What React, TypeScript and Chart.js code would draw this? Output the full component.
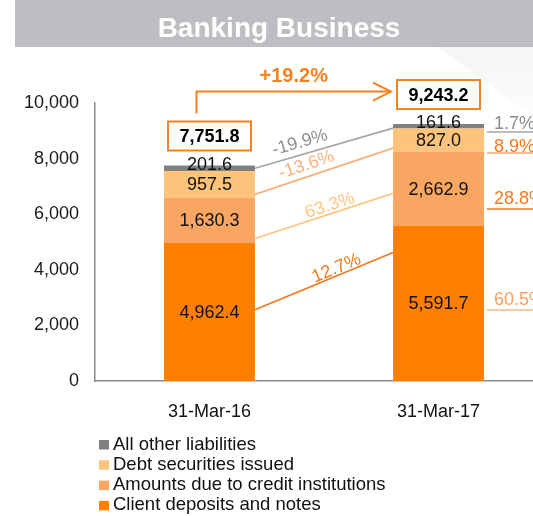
import { useEffect, useRef } from 'react';
import { Chart, registerables } from 'chart.js';

Chart.register(...registerables);

// ---------- data ----------
const titleText = 'Banking Business';
const categories = ['31-Mar-16', '31-Mar-17'];
const seriesNames = [
  'Client deposits and notes',
  'Amounts due to credit institutions',
  'Debt securities issued',
  'All other liabilities',
];
const clientDeposits = [4962.4, 5591.7];
const amountsDue = [1630.3, 2662.9];
const debtSecurities = [957.5, 827.0];
const otherLiabilities = [201.6, 161.6];
const totals = [7751.8, 9243.2];
const yTicks = [0, 2000, 4000, 6000, 8000, 10000];
const totalGrowth = '+19.2%';
// order: client, amounts, debt, other
const changeLabels = ['12.7%', '63.3%', '-13.6%', '-19.9%'];
const connectorFrom = [2563, 5126, 6715, 7653];
const connectorTo = [4621, 6751, 8375, 9097];
const shareLabels = ['60.5%', '28.8%', '8.9%', '1.7%'];
const shareAnchors = [2553, 6185, 8199, 8954];

// ---------- styles ----------
const FONT = '"Liberation Sans", Arial, Helvetica, sans-serif';
const seriesColors = ['#FF8000', '#F9A662', '#FFC47C', '#808080'];
const connectorLineColors = ['#F07A1E', '#FFC57F', '#F9B07E', '#A6A6A6'];
const connectorTextColors = ['#F07A1E', '#FFC57F', '#F9B07E', '#8E8E8E'];
const connectorT = [0.61, 0.56, 0.4, 0.35];
const connectorLift = [2, 3, 6.5, 7];
const shareLineColors = ['#FBB880', '#F47B20', '#F9A870', '#A6A6A6'];
const shareTextColors = ['#F8A060', '#F47B20', '#F47B20', '#8C8C8C'];
const shareLift = [5, 5, 1, 3];
const ORANGE = '#F58220';

const fmt1 = (v: number) =>
  v.toLocaleString('en-US', { minimumFractionDigits: 1, maximumFractionDigits: 1 });

const decorPlugin = {
  id: 'decor',
  beforeDraw(chart: any) {
    const ctx = chart.ctx as CanvasRenderingContext2D;
    ctx.save();
    ctx.fillStyle = '#ffffff';
    ctx.fillRect(0, 0, chart.width, chart.height);
    // faint decorative wedge top-right
    const g = ctx.createLinearGradient(0, 47, 0, 140);
    g.addColorStop(0, '#F5F5F6');
    g.addColorStop(1, '#FFFFFF');
    ctx.fillStyle = g;
    ctx.beginPath();
    ctx.moveTo(437, 47);
    ctx.lineTo(chart.width, 47);
    ctx.lineTo(chart.width, 135);
    ctx.closePath();
    ctx.fill();
    ctx.fillStyle = '#BDBEC1';
    ctx.fillRect(15, 0, chart.width - 15, 47);
    ctx.fillStyle = '#ffffff';
    ctx.font = `bold 28px ${FONT}`;
    ctx.textAlign = 'center';
    ctx.textBaseline = 'alphabetic';
    ctx.fillText(titleText, 279, 37);
    ctx.restore();
  },
  afterDatasetsDraw(chart: any) {
    const ctx = chart.ctx as CanvasRenderingContext2D;
    const y = chart.scales.y;
    const metas = [0, 1, 2, 3].map((i) => chart.getDatasetMeta(i));
    const b0 = metas[0].data[0];
    const b1 = metas[0].data[1];
    const x1 = b0.x + b0.width / 2;
    const x2 = b1.x - b1.width / 2;
    ctx.save();

    // connector lines with change labels
    for (let i = 0; i < 4; i++) {
      const ya = y.getPixelForValue(connectorFrom[i]);
      const yb = y.getPixelForValue(connectorTo[i]);
      ctx.strokeStyle = connectorLineColors[i];
      ctx.lineWidth = 1.8;
      ctx.beginPath();
      ctx.moveTo(x1, ya);
      ctx.lineTo(x2, yb);
      ctx.stroke();
      const ang = Math.atan2(yb - ya, x2 - x1);
      const t = connectorT[i];
      const cx = x1 + (x2 - x1) * t;
      const cy = ya + (yb - ya) * t;
      ctx.save();
      ctx.translate(cx, cy);
      ctx.rotate(ang);
      ctx.fillStyle = connectorTextColors[i];
      ctx.font = `18px ${FONT}`;
      ctx.textAlign = 'center';
      ctx.textBaseline = 'alphabetic';
      ctx.fillText(changeLabels[i], 0, -connectorLift[i]);
      ctx.restore();
    }

    // share lines right of bar 2
    const sx = b1.x + b1.width / 2;
    for (let i = 0; i < 4; i++) {
      const ly = y.getPixelForValue(shareAnchors[i]);
      ctx.strokeStyle = shareLineColors[i];
      ctx.lineWidth = 1.5;
      ctx.beginPath();
      ctx.moveTo(sx + 3, ly);
      ctx.lineTo(chart.width, ly);
      ctx.stroke();
      ctx.fillStyle = shareTextColors[i];
      ctx.font = `18px ${FONT}`;
      ctx.textAlign = 'left';
      ctx.textBaseline = 'alphabetic';
      ctx.fillText(shareLabels[i], sx + 10, ly - shareLift[i]);
    }

    // segment value labels
    ctx.fillStyle = '#111111';
    ctx.font = `18px ${FONT}`;
    ctx.textAlign = 'center';
    ctx.textBaseline = 'middle';
    const dsData = [clientDeposits, amountsDue, debtSecurities, otherLiabilities];
    for (let i = 0; i < 4; i++) {
      metas[i].data.forEach((bar: any, j: number) => {
        const cy = (bar.y + bar.base) / 2 + (i === 3 ? -4 : 0);
        ctx.fillText(fmt1(dsData[i][j]), bar.x, cy + 1);
      });
    }

    // total boxes
    const boxes: { l: number; t: number; w: number; h: number }[] = [];
    metas[3].data.forEach((bar: any, j: number) => {
      const w = 83;
      const h = 29;
      const bottom = bar.y - 15;
      const l = bar.x - w / 2;
      const t = bottom - h;
      boxes.push({ l, t, w, h });
      ctx.fillStyle = '#ffffff';
      ctx.fillRect(l, t, w, h);
      ctx.strokeStyle = ORANGE;
      ctx.lineWidth = 2;
      ctx.strokeRect(l, t, w, h);
      ctx.fillStyle = '#000000';
      ctx.font = `bold 18px ${FONT}`;
      ctx.textAlign = 'center';
      ctx.textBaseline = 'middle';
      ctx.fillText(fmt1(totals[j]), bar.x, t + h / 2 + 1);
    });

    // growth arrow
    const ax = b0.x - 13;
    const ay0 = boxes[0].t - 8;
    const ay = boxes[1].t + boxes[1].h / 2 - 3;
    const ex = boxes[1].l - 6;
    ctx.strokeStyle = ORANGE;
    ctx.lineWidth = 2;
    ctx.beginPath();
    ctx.moveTo(ax, ay0);
    ctx.lineTo(ax, ay);
    ctx.lineTo(ex, ay);
    ctx.stroke();
    ctx.beginPath();
    ctx.moveTo(ex - 18, ay - 9);
    ctx.lineTo(ex, ay);
    ctx.lineTo(ex - 18, ay + 9);
    ctx.stroke();
    ctx.fillStyle = ORANGE;
    ctx.font = `bold 20px ${FONT}`;
    ctx.textAlign = 'center';
    ctx.textBaseline = 'middle';
    ctx.fillText(totalGrowth, (ax + ex) / 2, ay - 15);

    // legend (reverse order)
    ctx.font = `18.5px ${FONT}`;
    ctx.textAlign = 'left';
    ctx.textBaseline = 'alphabetic';
    for (let k = 0; k < 4; k++) {
      const i = 3 - k;
      const base = 449.5 + k * 20.3;
      ctx.fillStyle = seriesColors[i];
      ctx.fillRect(99, base - 9.5, 10, 9.5);
      ctx.fillStyle = '#111111';
      ctx.fillText(seriesNames[i], 113, base);
    }
    ctx.restore();
  },
};

export default function App() {
  const ref = useRef<HTMLCanvasElement>(null);
  useEffect(() => {
    const canvas = ref.current!;
    const dsData = [clientDeposits, amountsDue, debtSecurities, otherLiabilities];
    const chart = new Chart(canvas, {
      type: 'bar',
      data: {
        labels: categories,
        datasets: dsData.map((d, i) => ({
          label: seriesNames[i],
          data: d,
          backgroundColor: seriesColors[i],
          borderWidth: 0,
          barPercentage: 0.397,
          categoryPercentage: 1,
        })),
      },
      options: {
        responsive: false,
        animation: false,
        layout: { padding: { left: 0, top: 103, right: 7, bottom: 0 } },
        plugins: {
          legend: { display: false },
          tooltip: { enabled: false },
          title: { display: false },
        },
        scales: {
          x: {
            stacked: true,
            grid: { display: false, drawTicks: false },
            border: { display: true, color: '#8A8A8A', width: 1.5 },
            ticks: {
              color: '#111111',
              font: { family: FONT, size: 18 },
              padding: 20,
              maxRotation: 0,
              autoSkip: false,
            },
            afterFit: (s: any) => {
              s.height = 135;
            },
          },
          y: {
            stacked: true,
            min: 0,
            max: 10000,
            grid: { display: false, drawTicks: false },
            border: { display: true, color: '#8A8A8A', width: 1.5 },
            ticks: {
              color: '#1A1A1A',
              font: { family: FONT, size: 18 },
              padding: 16,
              callback: (v: any) => Number(v).toLocaleString('en-US'),
            },
            afterBuildTicks: (s: any) => {
              s.ticks = yTicks.map((v) => ({ value: v }));
            },
            afterFit: (s: any) => {
              s.width = 95;
            },
          },
        },
      } as any,
      plugins: [decorPlugin],
    });
    return () => chart.destroy();
  }, []);
  return (
    <div
      style={{
        position: 'fixed',
        left: 0,
        top: 0,
        width: 533,
        height: 516,
        overflow: 'hidden',
        background: '#fff',
      }}
    >
      <canvas ref={ref} width={560} height={516} style={{ width: 560, height: 516, display: 'block' }} />
    </div>
  );
}
